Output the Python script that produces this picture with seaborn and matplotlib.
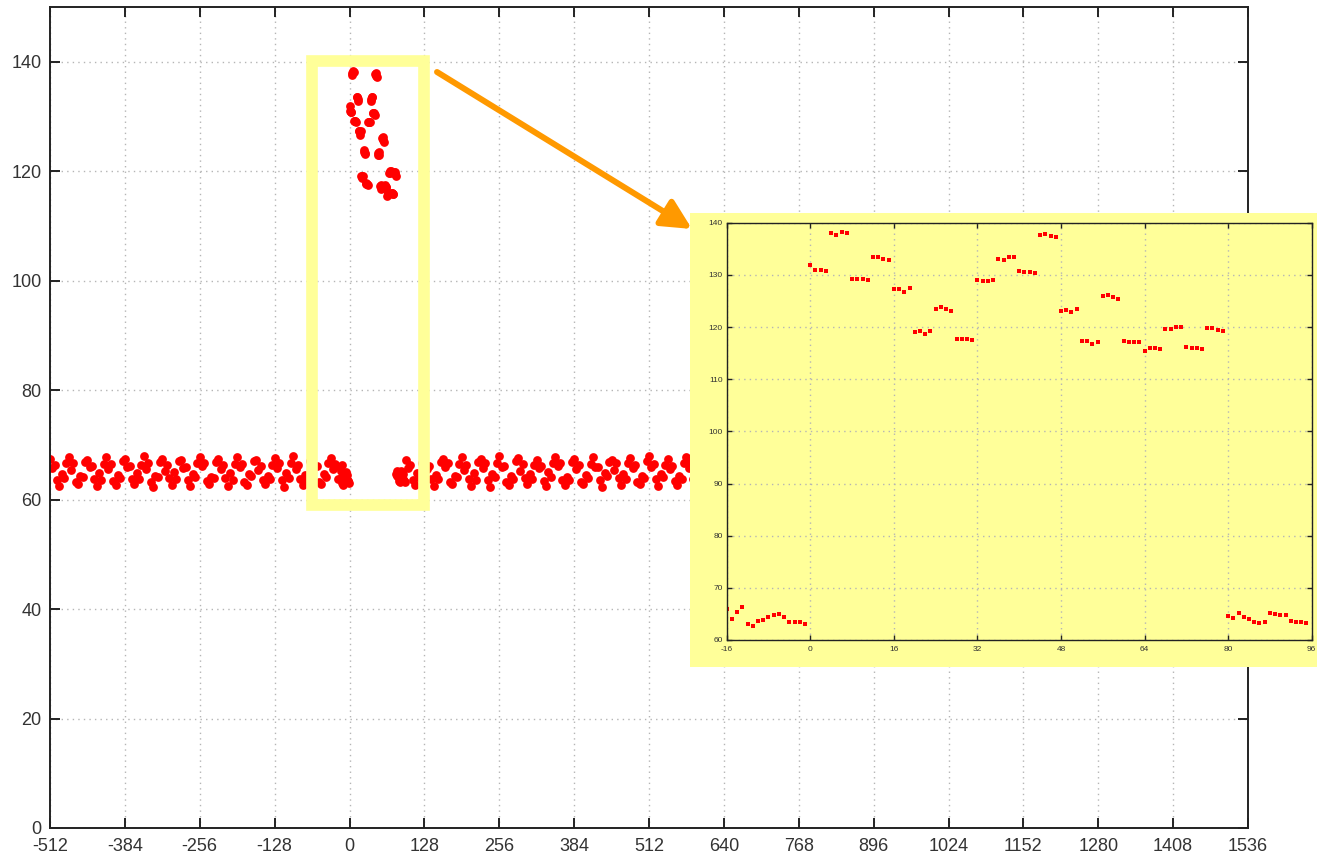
import numpy as np
import pandas as pd
import matplotlib
matplotlib.use('Agg')
import matplotlib.pyplot as plt
from matplotlib.patches import Rectangle
import seaborn as sns

sns.set_style('ticks')
plt.rcParams['font.family'] = ['Liberation Sans', 'DejaVu Sans']
plt.rcParams['axes.unicode_minus'] = False

# samples shown in the zoomed panel, x = -16 .. 95
zoom_x = list(range(-16, 96))
zoom_y = [
    66.0, 64.0, 65.3, 66.4, 63.1, 62.7, 63.6, 63.8, 64.5, 64.8, 65.0, 64.5, 63.5, 63.4, 63.4, 63.1,
    131.9, 131.0, 130.9, 130.8, 138.0, 137.6, 138.3, 138.1,
    129.2, 129.2, 129.2, 129.0, 133.5, 133.5, 133.1, 132.8,
    127.3, 127.3, 126.7, 127.4, 119.1, 119.2, 118.7, 119.2,
    123.5, 123.9, 123.4, 123.1, 117.8, 117.7, 117.7, 117.5,
    129.0, 128.9, 128.9, 129.0, 133.1, 132.9, 133.5, 133.5,
    130.7, 130.6, 130.6, 130.3, 137.7, 137.9, 137.4, 137.2,
    123.0, 123.3, 122.9, 123.5, 117.3, 117.4, 116.8, 117.2,
    126.0, 126.2, 125.7, 125.4, 117.4, 117.2, 117.2, 117.2,
    115.4, 116.0, 116.0, 115.8, 119.6, 119.6, 120.1, 120.1,
    116.1, 116.0, 115.9, 115.8, 119.9, 119.9, 119.4, 119.2,
    64.6, 64.3, 65.2, 64.5, 64.0, 63.4, 63.3, 63.4, 65.2, 65.0, 64.7, 64.7, 63.7, 63.4, 63.4, 63.2,
]

# background band of the full view, read every 4 samples
band_left_x = list(range(-512, -16, 4))
band_left_y = [
    67.5, 65.7, 66.3, 63.6, 62.5, 64.7, 63.9, 66.6,
    67.7, 65.4, 66.6, 63.2, 62.8, 64.4, 64.1, 66.9,
    67.3, 65.9, 66.1, 63.8, 62.4, 64.9, 63.6, 66.5,
    67.8, 65.5, 66.5, 63.4, 62.7, 64.5, 64.0, 67.0,
    67.4, 66.0, 66.2, 63.7, 62.9, 64.8, 63.7, 66.4,
    67.9, 65.6, 66.7, 63.3, 62.3, 64.3, 64.2, 66.8,
    67.5, 65.3, 66.4, 63.9, 62.6, 65.0, 63.8, 67.1,
    67.2, 65.8, 66.0, 63.5, 62.5, 64.6, 64.1, 66.6,
    67.7, 66.1, 66.6, 63.4, 62.8, 64.2, 63.9, 66.9,
    67.4, 65.5, 66.3, 64.0, 62.4, 64.8, 63.6, 66.5,
    67.8, 65.9, 66.5, 63.2, 62.7, 64.6, 64.3, 67.0,
    67.3, 65.4, 66.1, 63.6, 62.9, 64.4, 63.7, 66.4,
    67.6, 65.8, 66.6, 63.5, 62.3, 64.9, 64.0, 66.7,
    67.9, 65.6, 66.4, 63.8, 62.6, 64.5, 63.8, 67.1,
    67.4, 66.0, 66.2, 63.3, 62.8, 64.7, 64.2, 66.6,
    67.6, 65.5, 66.5, 63.7,
]
band_right_x = list(range(96, 604, 4))
band_right_y = [
    67.3, 65.8, 66.4, 63.5, 62.6, 64.8, 63.9, 66.7,
    67.7, 65.5, 66.2, 63.7, 62.4, 64.5, 63.7, 66.9,
    67.5, 65.9, 66.6, 63.3, 62.8, 64.3, 64.1, 66.5,
    67.8, 65.4, 66.3, 63.8, 62.5, 64.9, 63.6, 66.8,
    67.4, 65.7, 66.7, 63.5, 62.3, 64.6, 64.2, 66.6,
    67.9, 66.0, 66.1, 63.2, 62.7, 64.4, 63.8, 67.0,
    67.6, 65.3, 66.5, 63.9, 62.9, 64.7, 63.7, 66.4,
    67.2, 65.8, 66.2, 63.4, 62.4, 65.0, 64.1, 66.7,
    67.7, 66.1, 66.6, 63.6, 62.6, 64.2, 63.6, 66.9,
    67.5, 65.6, 66.3, 63.3, 62.8, 64.5, 64.0, 66.5,
    67.8, 65.9, 66.0, 63.5, 62.3, 64.8, 64.3, 66.8,
    67.3, 65.4, 66.6, 64.0, 62.7, 64.6, 63.7, 66.6,
    67.6, 65.7, 66.4, 63.2, 62.9, 64.3, 63.9, 67.0,
    67.9, 66.0, 66.5, 63.7, 62.5, 64.7, 64.1, 66.4,
    67.4, 65.6, 66.2, 63.4, 62.6, 64.4, 63.8, 66.7,
    67.7, 65.8, 66.6, 63.8, 62.7, 64.8, 64.0,
]

main_xticks = list(range(-512, 1537, 128))
main_yticks = list(range(0, 141, 20))
zoom_xticks = list(range(-16, 97, 16))
zoom_yticks = list(range(60, 141, 10))

YELLOW = '#ffff99'
ORANGE = '#ff9900'

df_main = pd.DataFrame({
    'x': band_left_x + zoom_x + band_right_x,
    'y': band_left_y + zoom_y + band_right_y,
})
df_zoom = pd.DataFrame({'x': zoom_x, 'y': zoom_y})

W, H = 1317, 856
fig = plt.figure(figsize=(W / 100, H / 100), dpi=100)
ax = fig.add_axes([50 / W, 1 - 828 / H, 1198 / W, 821 / H])


def style(a, size, tick_len, pad_x, pad_y, lw):
    a.grid(True, linestyle=(0, (1, 3)), color='#b5b5b5', lw=1)
    a.set_axisbelow(True)
    a.tick_params(direction='in', length=tick_len, width=lw, top=True, right=True,
                  labelsize=size, labelcolor='#333333', color='#222222')
    a.tick_params(axis='x', pad=pad_x)
    a.tick_params(axis='y', pad=pad_y)
    for s in a.spines.values():
        s.set_visible(True)
        s.set_color('#222222')
        s.set_linewidth(lw)
    a.set_xlabel('')
    a.set_ylabel('')


sns.scatterplot(data=df_main, x='x', y='y', ax=ax, color='red', marker='o',
                s=26, linewidth=1.2, edgecolor='red', legend=False)
ax.set_xlim(-512, 1536)
ax.set_ylim(0, 150)
ax.set_xticks(main_xticks)
ax.set_yticks(main_yticks)
style(ax, 13, 7, 7, 6, 1.4)

ax.add_patch(Rectangle((-64, 59), 192, 81.2, fill=False, edgecolor=YELLOW,
                       lw=8.4, joinstyle='miter', zorder=3, clip_on=False))

# yellow card behind the zoomed panel
fig.add_artist(Rectangle((690 / W, 1 - 667 / H), 627 / W, 454 / H,
                         transform=fig.transFigure, facecolor=YELLOW,
                         edgecolor='none', zorder=1))

ax_in = fig.add_axes([726.7 / W, 1 - 640 / H, 585 / W, 417.3 / H])
ax_in.set_zorder(2)
ax_in.set_facecolor(YELLOW)
sns.scatterplot(data=df_zoom, x='x', y='y', ax=ax_in, color='red', marker='s',
                s=6, linewidth=0, legend=False)
ax_in.set_xlim(-16, 96)
ax_in.set_ylim(60, 140)
ax_in.set_xticks(zoom_xticks)
ax_in.set_yticks(zoom_yticks)
style(ax_in, 6, 3.5, 4, 3, 1.0)

ax_in.annotate('', xy=(692, H - 229), xycoords='figure pixels',
               xytext=(437, H - 72), textcoords='figure pixels',
               arrowprops=dict(arrowstyle='-|>,head_length=0.9,head_width=0.45',
                               color=ORANGE, lw=4.3, mutation_scale=20,
                               shrinkA=0, shrinkB=0),
               annotation_clip=False)

fig.savefig('out.png', dpi=100)
